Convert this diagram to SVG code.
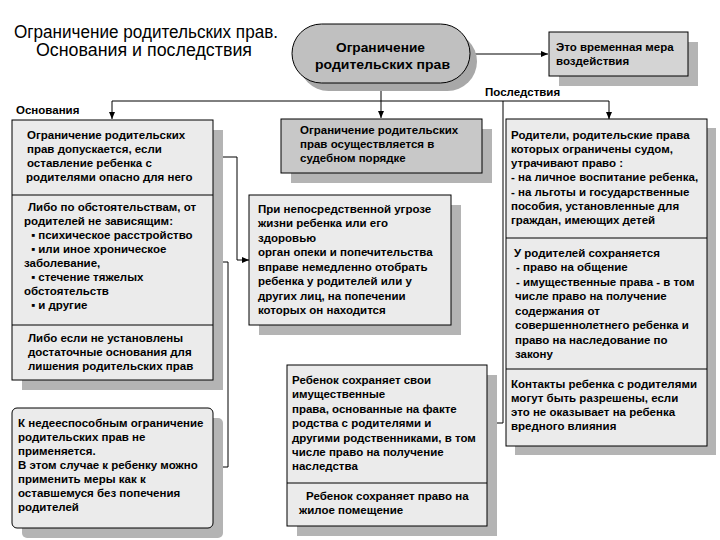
<svg xmlns="http://www.w3.org/2000/svg" width="720" height="540" viewBox="0 0 720 540">
<style>
.t{font-family:"Liberation Sans",Arial,sans-serif;font-size:11.5px;font-weight:bold;fill:#000}
.ti{font-family:"Liberation Sans",Arial,sans-serif;font-size:17.5px;fill:#000}
.pt{font-family:"Liberation Sans",Arial,sans-serif;font-size:13.5px;font-weight:bold;fill:#000}
.box{fill:#ebebeb;stroke:#000;stroke-width:1}
.dark{fill:#c8c8c8;stroke:#000;stroke-width:1}
.sh{fill:#b4b4b4}
.ln{fill:none;stroke:#000;stroke-width:1}
</style>
<defs>
<marker id="ah" markerWidth="7" markerHeight="6" refX="7" refY="3" orient="auto" markerUnits="userSpaceOnUse">
<path d="M0,0 L7,3 L0,6 Z" fill="#000"/>
</marker>
</defs>
<rect width="720" height="540" fill="#fff"/>
<g id="title">
<text class="ti" x="14" y="38" textLength="264" lengthAdjust="spacingAndGlyphs">Ограничение родительских прав.</text>
<text class="ti" x="36" y="56" textLength="216" lengthAdjust="spacingAndGlyphs">Основания и последствия</text>
</g>
<g id="labels">
<text class="t" x="485" y="96">Последствия</text>
<text class="t" x="16" y="114">Основания</text>
</g>
<g id="connectors">
<path class="ln" d="M470,54 H548" marker-end="url(#ah)"/>
<path class="ln" d="M381,83 V118" marker-end="url(#ah)"/>
<path class="ln" d="M112,101 H609"/>
<path class="ln" d="M112,101 V119" marker-end="url(#ah)"/>
<path class="ln" d="M609,101 V119" marker-end="url(#ah)"/>
<path class="ln" d="M503,101 V423 H488" marker-end="url(#ah)"/>
<path class="ln" d="M223,157 H237 V260 H249" marker-end="url(#ah)"/>
<path class="ln" d="M223,262 H228 V467 H214" marker-end="url(#ah)"/>
</g>
<g id="pill">
<rect x="299" y="32" width="178" height="59" rx="29.5" fill="#a8a8a8"/>
<rect x="292" y="24" width="178" height="59" rx="29.5" fill="#c0c0c0" stroke="#000"/>
<text class="pt" x="336" y="52" textLength="89" lengthAdjust="spacingAndGlyphs">Ограничение</text>
<text class="pt" x="315" y="69" textLength="135" lengthAdjust="spacingAndGlyphs">родительских прав</text>
</g>
<g id="temp">
<rect class="sh" x="559" y="42" width="139" height="44"/>
<rect x="549" y="32" width="139" height="44" fill="#d4d4d4" stroke="#000"/>
<text class="t" x="556" y="51">Это временная мера</text>
<text class="t" x="556" y="65">воздействия</text>
</g>
<g id="grounds">
<rect class="sh" x="22" y="130" width="201" height="260"/>
<rect class="box" x="12" y="120" width="201" height="260"/>
<path class="ln" d="M12,195 H213 M12,325 H213"/>
<text class="t" x="27" y="139">Ограничение родительских</text>
<text class="t" x="27" y="153">прав допускается,  если</text>
<text class="t" x="27" y="167">оставление ребенка с</text>
<text class="t" x="26" y="181">родителями опасно для него</text>
<text class="t" x="28" y="211">Либо по обстоятельствам, от</text>
<text class="t" x="24" y="225">родителей не зависящим:</text>
<text class="t" x="31" y="239">▪ психическое расстройство</text>
<text class="t" x="31" y="253">▪ или иное хроническое</text>
<text class="t" x="24" y="267">заболевание,</text>
<text class="t" x="31" y="281">▪ стечение тяжелых</text>
<text class="t" x="24" y="295">обстоятельств</text>
<text class="t" x="31" y="309">▪ и другие</text>
<text class="t" x="28" y="342">Либо если не установлены</text>
<text class="t" x="28" y="356">достаточные основания для</text>
<text class="t" x="28" y="370">лишения родительских прав</text>
</g>
<g id="incapable">
<rect class="sh" x="22" y="418" width="201" height="120" rx="5"/>
<rect class="box" x="12" y="408" width="201" height="120" rx="5"/>
<text class="t" x="18" y="427">К недееспособным ограничение</text>
<text class="t" x="18" y="441">родительских прав не</text>
<text class="t" x="18" y="455">применяется.</text>
<text class="t" x="18" y="469">В этом случае к ребенку можно</text>
<text class="t" x="18" y="483">применить меры как  к</text>
<text class="t" x="18" y="497">оставшемуся без попечения</text>
<text class="t" x="18" y="511">родителей</text>
</g>
<g id="court">
<rect class="sh" x="291" y="129" width="201" height="54"/>
<rect class="dark" x="281" y="119" width="201" height="54"/>
<text class="t" x="300" y="134">Ограничение родительских</text>
<text class="t" x="300" y="148">прав осуществляется в</text>
<text class="t" x="300" y="162">судебном порядке</text>
</g>
<g id="threat">
<rect class="sh" x="259" y="205" width="202" height="130"/>
<rect class="box" x="249" y="195" width="202" height="130"/>
<text class="t" x="258" y="213">При непосредственной угрозе</text>
<text class="t" x="258" y="227"> жизни ребенка  или его</text>
<text class="t" x="258" y="242">здоровью</text>
<text class="t" x="258" y="256">орган опеки и попечительства</text>
<text class="t" x="258" y="271">вправе немедленно отобрать</text>
<text class="t" x="258" y="285">ребенка у родителей или у</text>
<text class="t" x="258" y="300">других лиц, на попечении</text>
<text class="t" x="258" y="314">которых он находится</text>
</g>
<g id="child">
<rect class="sh" x="297" y="375" width="200" height="161"/>
<rect class="box" x="287" y="365" width="200" height="161"/>
<path class="ln" d="M287,483 H487"/>
<text class="t" x="292" y="384">Ребенок сохраняет свои</text>
<text class="t" x="292" y="398">имущественные</text>
<text class="t" x="292" y="413">права, основанные на факте</text>
<text class="t" x="292" y="427">родства с родителями и</text>
<text class="t" x="292" y="442">другими родственниками, в том</text>
<text class="t" x="292" y="456">числе право на получение</text>
<text class="t" x="292" y="470">наследства</text>
<text class="t" x="306" y="500">Ребенок сохраняет право на</text>
<text class="t" x="299" y="514">жилое помещение</text>
</g>
<g id="consequences">
<rect class="sh" x="515" y="128" width="201" height="327"/>
<rect class="box" x="506" y="119" width="201" height="327"/>
<path class="ln" d="M506,238 H707 M506,369 H707"/>
<text class="t" x="511" y="139">Родители, родительские права</text>
<text class="t" x="511" y="153">которых ограничены судом,</text>
<text class="t" x="511" y="167">утрачивают право :</text>
<text class="t" x="511" y="181">- на личное воспитание ребенка,</text>
<text class="t" x="511" y="196">- на льготы и государственные</text>
<text class="t" x="511" y="210">пособия, установленные для</text>
<text class="t" x="511" y="224">граждан, имеющих детей</text>
<text class="t" x="514" y="257">У родителей сохраняется</text>
<text class="t" x="516" y="271">- право на общение</text>
<text class="t" x="516" y="286">- имущественные права - в том</text>
<text class="t" x="515" y="300">числе право на получение</text>
<text class="t" x="515" y="315">содержания от</text>
<text class="t" x="515" y="329">совершеннолетнего ребенка и</text>
<text class="t" x="515" y="344">право на наследование по</text>
<text class="t" x="515" y="358">закону</text>
<text class="t" x="511" y="388">Контакты ребенка с родителями</text>
<text class="t" x="511" y="402">могут быть разрешены, если</text>
<text class="t" x="511" y="416">это не оказывает на ребенка</text>
<text class="t" x="511" y="430">вредного влияния</text>
</g>
</svg>
